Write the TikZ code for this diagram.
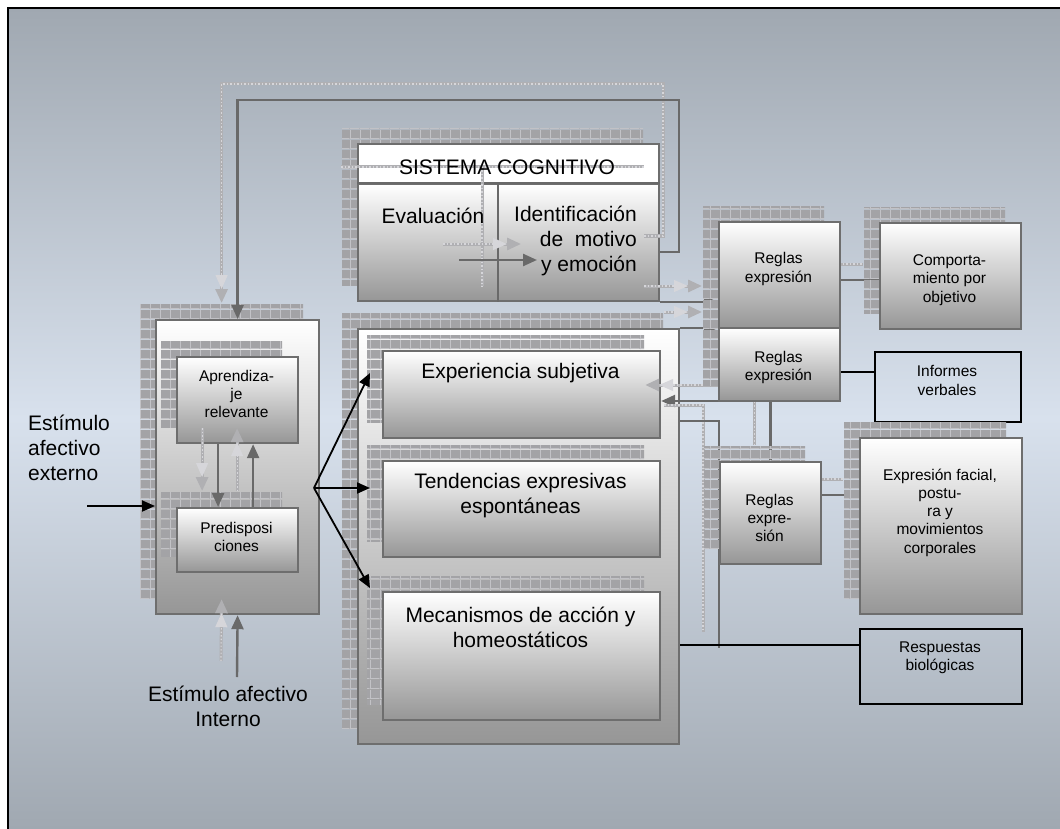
\documentclass[tikz,border=0pt]{standalone}
\usepackage{fontspec}
\setmainfont{Liberation Sans}
\usetikzlibrary{arrows.meta,patterns,shadows}

\definecolor{bgdark}{RGB}{160,168,177}
\definecolor{bglight}{RGB}{216,225,237}
\definecolor{boxline}{RGB}{110,110,110}
\definecolor{boxbottom}{RGB}{150,150,150}
\definecolor{hatchfill}{RGB}{163,163,166}
\definecolor{hatchline}{RGB}{194,194,198}
\definecolor{linkdark}{RGB}{105,105,105}
\definecolor{linklight}{RGB}{176,176,179}
\definecolor{linkdot}{RGB}{214,214,218}

% grid texture used for the offset shadows
\pgfdeclarepatterninherentlycolored{hatchgrid}
  {\pgfpointorigin}{\pgfqpoint{10pt}{10pt}}{\pgfqpoint{10pt}{10pt}}
  {%
    \pgfsetfillcolor{hatchfill}%
    \pgfpathrectangle{\pgfpointorigin}{\pgfqpoint{10pt}{10pt}}%
    \pgfusepath{fill}%
    \pgfsetstrokecolor{hatchline}%
    \pgfsetlinewidth{0.9pt}%
    \pgfpathmoveto{\pgfqpoint{0pt}{0.5pt}}\pgfpathlineto{\pgfqpoint{10pt}{0.5pt}}%
    \pgfpathmoveto{\pgfqpoint{0.5pt}{0pt}}\pgfpathlineto{\pgfqpoint{0.5pt}{10pt}}%
    \pgfusepath{stroke}%
  }

\pgfdeclarelayer{mid}
\pgfdeclarelayer{front}
\pgfdeclarelayer{labels}
\pgfsetlayers{main,mid,front,labels}

\tikzset{
  hatched/.style={general shadow={shadow xshift=-16pt, shadow yshift=16pt, pattern=hatchgrid}},
  panel/.style={anchor=north west, inner sep=0pt, draw=boxline, line width=2.2pt,
    top color=white, bottom color=boxbottom, hatched},
  whitepanel/.style={anchor=north west, inner sep=0pt, draw=boxline, line width=2.2pt,
    fill=white, hatched},
  flatpanel/.style={anchor=north west, inner sep=0pt, draw=boxline, line width=2.2pt,
    top color=white, bottom color=boxbottom},
  outline/.style={anchor=north west, inner sep=0pt, draw=black, line width=2pt},
  ghost/.style={transform canvas={shift={(-16pt,16pt)}}},
  link/.style={draw=linkdark, line width=2.4pt,
    preaction={draw=linklight, line width=3pt, ghost},
    preaction={draw=linkdot, line width=1.1pt, dash pattern=on 1.5pt off 2pt, ghost}},
  linkarrow/.style={draw=linkdark, line width=2.4pt, -{Triangle[length=14pt,width=12pt]},
    preaction={draw=linklight, line width=3pt, -{Triangle[length=14pt,width=12pt]}, ghost},
    preaction={draw=linkdot, line width=1.1pt, dash pattern=on 1.5pt off 2pt,
      shorten >=14pt, ghost}},
  feed/.style={draw=black, line width=1.8pt, -{Triangle[length=13pt,width=11pt]}},
  wire/.style={draw=black, line width=1.6pt},
  big/.style={inner sep=0pt, align=center, font=\fontsize{21}{25}\selectfont},
  small/.style={inner sep=0pt, align=center, font=\fontsize{15.5}{18.3}\selectfont},
}

\begin{document}
\begin{tikzpicture}[x=1pt,y=-1pt]
\useasboundingbox (0,0) rectangle (1060,829);
\fill[white] (0,0) rectangle (1060,829);
\fill[top color=bgdark, bottom color=bgdark, middle color=bglight] (8,8) rectangle (1060,829);
\draw[black, line width=2pt] (8,829) -- (8,8) -- (1060,8);

% right column: expression rules and outputs
\begin{pgfonlayer}{front}
\node[panel, minimum width=121pt, minimum height=73pt] (r2) at (718,327) {};
\node[panel, minimum width=121pt, minimum height=106pt] (r1) at (718,221) {};
\node[panel, minimum width=101pt, minimum height=102pt] (r3) at (719,461) {};
\node[panel, minimum width=141pt, minimum height=106pt] (comp) at (879,222) {};
\node[outline, minimum width=146pt, minimum height=70pt] (iv) at (874,351) {};
\node[panel, minimum width=162pt, minimum height=176pt] (expr) at (859,437) {};
\node[outline, minimum width=162pt, minimum height=75pt] (rb) at (859,628) {};
\end{pgfonlayer}

% left block: learning and predispositions
\node[panel, minimum width=163pt, minimum height=294pt] (lbox) at (155,319) {};
\node[panel, minimum width=121pt, minimum height=86pt] (apr) at (176,356) {};
\node[panel, minimum width=121pt, minimum height=64pt] (pre) at (176,507) {};

% central block: emotional response components
\node[panel, minimum width=321pt, minimum height=415pt] (mbox) at (357,328) {};
\node[panel, minimum width=277pt, minimum height=87pt] (exp) at (382,350) {};
\node[panel, minimum width=277pt, minimum height=96pt] (tend) at (382,460) {};
\node[panel, minimum width=277pt, minimum height=128pt] (mec) at (382,591) {};

% cognitive system
\node[whitepanel, minimum width=301pt, minimum height=157pt] (sc) at (357,143) {};
\node[flatpanel, minimum width=301pt, minimum height=117pt] (scbody) at (357,183) {};
\draw[link] (scbody.north west) -- (scbody.north east);
\draw[link] (scbody.north -| 498,0) -- (scbody.south -| 498,0);

% loose end points
\coordinate (loopcorner) at (679,100);
\coordinate (extsrc) at (87,506);
\coordinate (intsrc) at (237,677);
\coordinate (fan) at (314,488);
\coordinate (toexp) at (370,373);
\coordinate (totend) at (370,488);
\coordinate (tomec) at (370,588);
\coordinate (evalout) at (459,260);
\coordinate (identin) at (537,260);
\coordinate (bend) at (719,648);

% connectors
\draw[linkarrow] (sc.east |- 0,252) -| (loopcorner) -| (lbox.north);
\draw[linkarrow] (sc.south east |- 0,302) -- (r1.west |- 0,302);
\draw[linkarrow] (mbox.north east) -- (mbox.north east -| r1.west);
\draw[linkarrow] (r3.north) -- (r3.north |- 0,401) -- (exp.east |- 0,401);
\draw[link] (mbox.east |- 0,421) -| (bend);
\draw[linkarrow] (evalout) -- (identin);
\draw[linkarrow] ([xshift=-19.5pt]apr.south) -- ([xshift=-19.5pt]pre.north);
\draw[linkarrow] ([xshift=15.5pt]pre.north) -- ([xshift=15.5pt]apr.south);
\draw[linkarrow] (intsrc) -- (lbox.south);
\draw[feed] (extsrc) -- (lbox.west |- extsrc);
\draw[feed] (fan) -- (toexp);
\draw[feed] (fan) -- (totend);
\draw[feed] (fan) -- (tomec);
\draw[wire] (mbox.east |- 0,645) -- (rb.west |- 0,645);

\begin{pgfonlayer}{mid}
\draw[link] (r1.east |- 0,280) -- (comp.west |- 0,280);
\draw[link] (r3.east |- 0,495) -- (expr.west |- 0,495);
\draw[wire] (r2.east |- 0,372) -- (iv.west |- 0,372);
\end{pgfonlayer}

% texts
\begin{pgfonlayer}{labels}
\node[big] (t-sc) at (507,167) {SISTEMA COGNITIVO};
\node[big] (t-eval) at (433,216) {Evaluación};
\node[big, align=right, anchor=east] (t-ident) at (637,240.5) {Identificación\\de\ \ motivo\\y emoción};
\node[big] (t-exp) at (520.5,373) {Experiencia subjetiva};
\node[big] (t-tend) at (520.5,496) {Tendencias expresivas\\espontáneas};
\node[big] (t-mec) at (520.5,627) {Mecanismos de acción y\\homeostáticos};
\node[big, align=left, anchor=west] (t-ext) at (28,448) {Estímulo\\afectivo\\externo};
\node[big] (t-int) at (228,706) {Estímulo afectivo\\Interno};
\node[small] (t-apr) at (236.5,394) {Aprendiza-\\je\\relevante};
\node[small] (t-pre) at (236.5,537) {Predisposi\\ciones};
\node[small] (t-r1) at (778.5,269) {Reglas\\expresión};
\node[small] (t-r2) at (778.5,367.5) {Reglas\\expresión};
\node[small] (t-r3) at (769.5,518) {Reglas\\expre-\\sión};
\node[small] (t-comp) at (949.5,280) {Comporta-\\miento por\\objetivo};
\node[small] (t-iv) at (947,380.5) {Informes\\verbales};
\node[small] (t-expr) at (940,512.5) {Expresión facial,\\postu-\\ra y\\movimientos\\corporales};
\node[small] (t-rb) at (940,657.5) {Respuestas\\biológicas};
\end{pgfonlayer}
\end{tikzpicture}
\end{document}
